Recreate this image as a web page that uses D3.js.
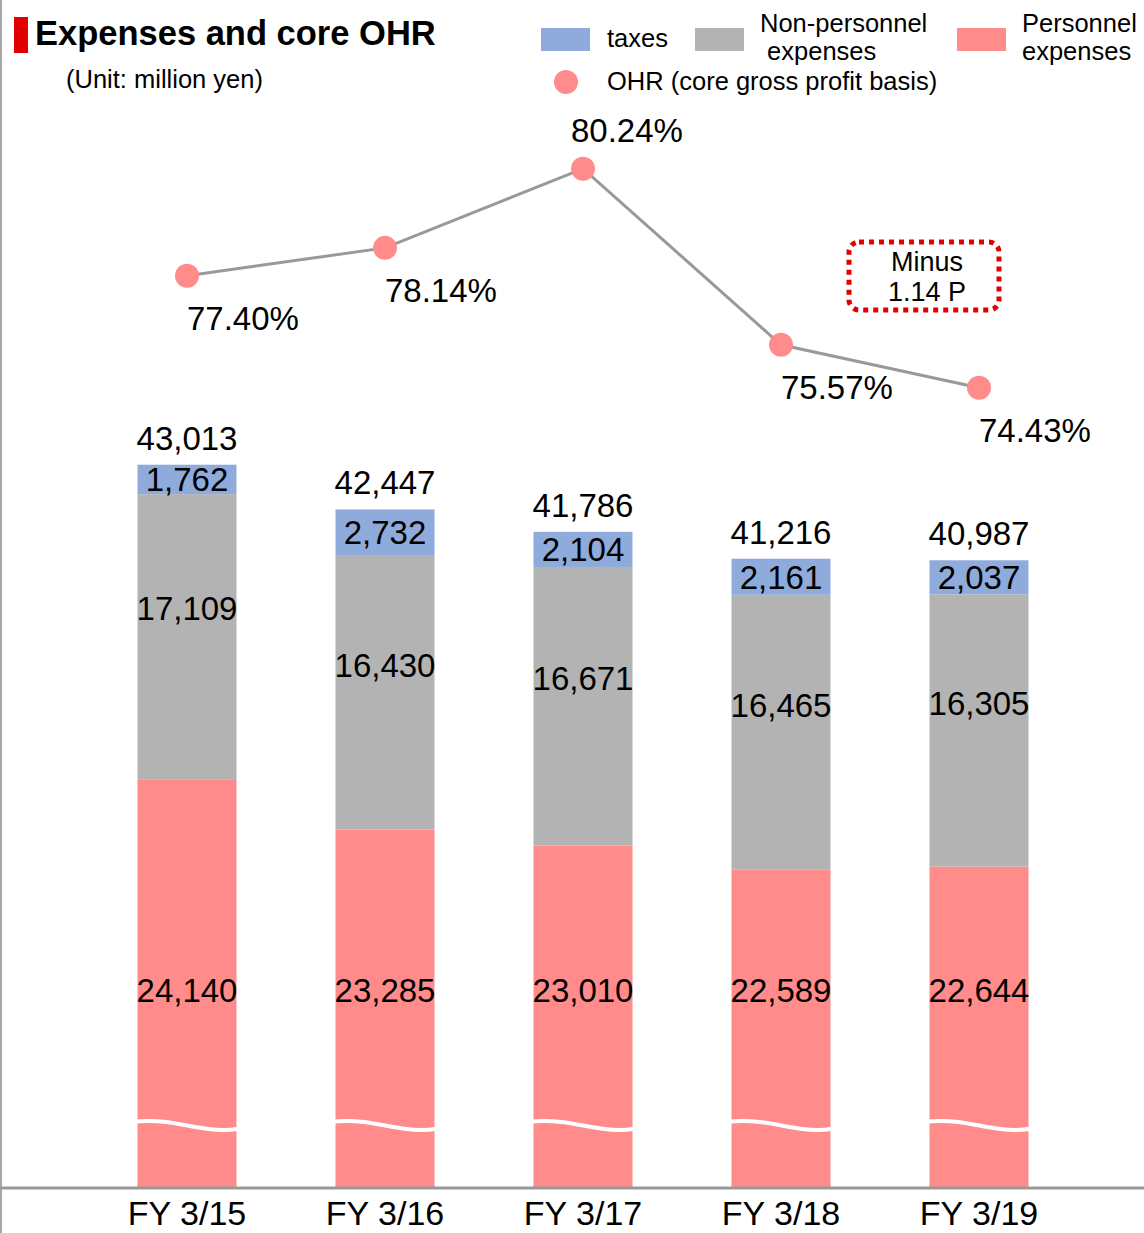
<!DOCTYPE html>
<html>
<head>
<meta charset="utf-8">
<script src="https://cdn.jsdelivr.net/npm/d3@7"></script>
<style>
  html, body { margin: 0; padding: 0; background: #fff; }
  svg { display: block; font-family: "Liberation Sans", Arial, sans-serif; }
</style>
</head>
<body>
<svg id="chart" width="1144" height="1233"></svg>
<script>
// Fiscal years and expense breakdown (million yen)
const categories = ["FY 3/15", "FY 3/16", "FY 3/17", "FY 3/18", "FY 3/19"];
const taxes = [1762, 2732, 2104, 2161, 2037];
const nonPersonnel = [17109, 16430, 16671, 16465, 16305];
const personnel = [24140, 23285, 23010, 22589, 22644];
const totals = [43013, 42447, 41786, 41216, 40987];
// Overhead ratio on a core gross profit basis (%)
const ohr = [77.40, 78.14, 80.24, 75.57, 74.43];

const legendItems = [
  { key: "taxes", lines: ["taxes"] },
  { key: "nonPersonnel", lines: ["Non-personnel", " expenses"] },
  { key: "personnel", lines: ["Personnel", "expenses"] }
];

const colors = {
  taxes: "#8eabdb",
  nonPersonnel: "#b3b3b3",
  personnel: "#ff8b8b",
  line: "#999999",
  accent: "#e00000"
};

const W = 1144, H = 1233;
const baseY = 1188;
const barW = 99;

const svg = d3.select("#chart");

// Horizontal position of each fiscal year
const x = d3.scalePoint().domain(categories).range([187, 979]);
// Personnel bars sit on a broken axis: the lower part of the scale is cut
const yPers = d3.scaleLinear().domain([17100, 25000]).range([baseY, 730]);
// Segment heights stacked above personnel expenses
const hUpper = d3.scaleLinear().domain([0, 20000]).range([0, 334]);
// OHR line scale
const yOhr = d3.scaleLinear().domain([74, 81]).range([404, 140]);

const fmt = d3.format(",");

// Frame: left rule
svg.append("line")
  .attr("x1", 1).attr("x2", 1).attr("y1", 0).attr("y2", H)
  .attr("stroke", "#a6a6a6").attr("stroke-width", 2);

// Stacked bars
const rows = categories.map((c, i) => {
  const pTop = yPers(personnel[i]);
  const gTop = pTop - hUpper(nonPersonnel[i]);
  const tTop = gTop - hUpper(taxes[i]);
  return { c, i, pTop, gTop, tTop };
});

const bars = svg.append("g").selectAll("g").data(rows).join("g");

bars.append("rect")
  .attr("x", d => x(d.c) - barW / 2).attr("width", barW)
  .attr("y", d => d.pTop).attr("height", d => baseY - d.pTop)
  .attr("fill", colors.personnel);
bars.append("rect")
  .attr("x", d => x(d.c) - barW / 2).attr("width", barW)
  .attr("y", d => d.gTop).attr("height", d => d.pTop - d.gTop)
  .attr("fill", colors.nonPersonnel);
bars.append("rect")
  .attr("x", d => x(d.c) - barW / 2).attr("width", barW)
  .attr("y", d => d.tTop).attr("height", d => d.gTop - d.tTop)
  .attr("fill", colors.taxes);

// Axis break marks across the personnel bars
const breakLine = d3.line().curve(d3.curveBasis);
bars.append("path")
  .attr("d", d => {
    const x0 = x(d.c) - barW / 2;
    const by = baseY - 63;
    return breakLine([
      [x0 - 30, by + 2], [x0 - 5, by - 4], [x0 + 25, by - 5],
      [x0 + 75, by + 6], [x0 + 100, by + 5], [x0 + 130, by - 3]
    ]);
  })
  .attr("fill", "none")
  .attr("stroke", "#ffffff")
  .attr("stroke-width", 4);

// Baseline
svg.append("line")
  .attr("x1", 0).attr("x2", W).attr("y1", baseY).attr("y2", baseY)
  .attr("stroke", "#999999").attr("stroke-width", 3);

// Category labels
svg.append("g").selectAll("text").data(categories).join("text")
  .attr("x", d => x(d)).attr("y", 1225)
  .attr("text-anchor", "middle")
  .attr("font-size", 34)
  .attr("fill", "#000")
  .text(d => d);

// Value labels
const numSize = 33;
bars.append("text")
  .attr("x", d => x(d.c)).attr("y", d => d.tTop - 15)
  .attr("text-anchor", "middle").attr("font-size", numSize)
  .text(d => fmt(totals[d.i]));
bars.append("text")
  .attr("x", d => x(d.c)).attr("y", d => (d.tTop + d.gTop) / 2 + 12)
  .attr("text-anchor", "middle").attr("font-size", numSize)
  .text(d => fmt(taxes[d.i]));
bars.append("text")
  .attr("x", d => x(d.c)).attr("y", d => d.gTop + (d.pTop - d.gTop) * 0.4 + 12)
  .attr("text-anchor", "middle").attr("font-size", numSize)
  .text(d => fmt(nonPersonnel[d.i]));
bars.append("text")
  .attr("x", d => x(d.c)).attr("y", 1002)
  .attr("text-anchor", "middle").attr("font-size", numSize)
  .text(d => fmt(personnel[d.i]));

// OHR line with markers
const ohrPts = categories.map((c, i) => ({ c, v: ohr[i] }));
svg.append("path")
  .datum(ohrPts)
  .attr("d", d3.line().x(d => x(d.c)).y(d => yOhr(d.v)))
  .attr("fill", "none")
  .attr("stroke", colors.line)
  .attr("stroke-width", 3);
svg.append("g").selectAll("circle").data(ohrPts).join("circle")
  .attr("cx", d => x(d.c)).attr("cy", d => yOhr(d.v))
  .attr("r", 12)
  .attr("fill", colors.personnel);
const maxOhr = d3.max(ohr);
svg.append("g").selectAll("text").data(ohrPts).join("text")
  .attr("x", d => x(d.c) + (d.v === maxOhr ? -12 : 0))
  .attr("y", d => yOhr(d.v) + (d.v === maxOhr ? -27 : 54))
  .attr("font-size", numSize)
  .text(d => d.v.toFixed(2) + "%");

// Change annotation between the last two years
const delta = ohr[ohr.length - 2] - ohr[ohr.length - 1];
const note = svg.append("g");
note.append("rect")
  .attr("x", 849).attr("y", 242).attr("width", 150).attr("height", 68)
  .attr("rx", 10)
  .attr("fill", "none")
  .attr("stroke", colors.accent)
  .attr("stroke-width", 5)
  .attr("stroke-dasharray", "5 5");
note.append("text")
  .attr("x", 927).attr("y", 271)
  .attr("text-anchor", "middle").attr("font-size", 27)
  .text("Minus");
note.append("text")
  .attr("x", 927).attr("y", 301)
  .attr("text-anchor", "middle").attr("font-size", 27)
  .text(delta.toFixed(2) + " P");

// Title
svg.append("rect")
  .attr("x", 14).attr("y", 17).attr("width", 14).attr("height", 36)
  .attr("fill", colors.accent);
svg.append("text")
  .attr("x", 35).attr("y", 45)
  .attr("font-size", 34.5).attr("font-weight", "bold")
  .text("Expenses and core OHR");
svg.append("text")
  .attr("x", 66).attr("y", 88)
  .attr("font-size", 25.5)
  .text("(Unit: million yen)");

// Legend
const legendPos = [
  { rx: 541, tx: 607, ty: [47] },
  { rx: 695, tx: 760, ty: [32, 60] },
  { rx: 957, tx: 1022, ty: [32, 60] }
];
const lg = svg.append("g");
legendItems.forEach((item, k) => {
  const p = legendPos[k];
  lg.append("rect")
    .attr("x", p.rx).attr("y", 28).attr("width", 49).attr("height", 23)
    .attr("fill", colors[item.key]);
  item.lines.forEach((ln, j) => {
    lg.append("text")
      .attr("x", p.tx).attr("y", p.ty[j])
      .attr("font-size", 25.5)
      .attr("xml:space", "preserve")
      .style("white-space", "pre")
      .text(ln);
  });
});
lg.append("circle")
  .attr("cx", 566).attr("cy", 82).attr("r", 12)
  .attr("fill", colors.personnel);
lg.append("text")
  .attr("x", 607).attr("y", 90)
  .attr("font-size", 25.5)
  .text("OHR (core gross profit basis)");
</script>
</body>
</html>
